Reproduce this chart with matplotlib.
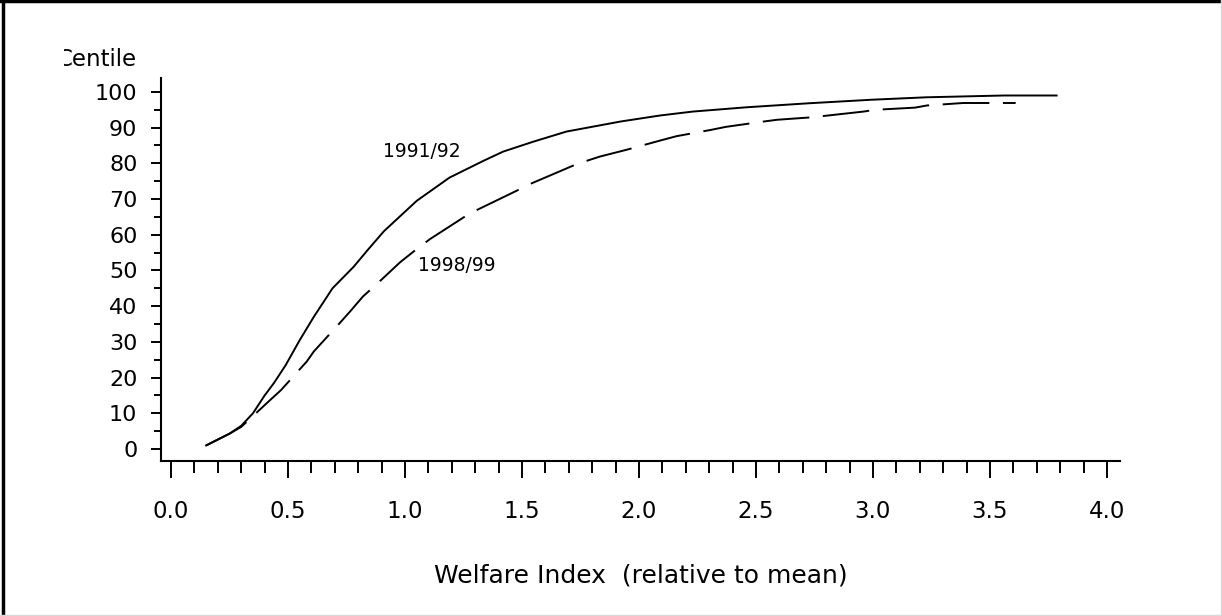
"""Cumulative welfare distribution, 1991/92 vs 1998/99."""
import numpy as np
import matplotlib
matplotlib.use("Agg")
import matplotlib.pyplot as plt
from matplotlib.lines import Line2D
from matplotlib.patches import Rectangle
from matplotlib.ticker import MultipleLocator

# welfare index (relative to mean) vs centile
x_9192 = [0.15, 0.25, 0.30, 0.35, 0.40, 0.44, 0.49, 0.55, 0.61, 0.69, 0.78,
          0.84, 0.91, 1.05, 1.19, 1.335, 1.42, 1.55, 1.69, 1.83, 1.92, 2.09,
          2.23, 2.46, 2.72, 2.99, 3.23, 3.56, 3.785]
y_9192 = [1.0, 4.3, 6.5, 10.0, 15.0, 18.5, 23.5, 30.5, 37.0, 45.0, 51.0,
          55.7, 61.0, 69.5, 76.0, 80.7, 83.3, 86.1, 88.9, 90.6, 91.7, 93.4,
          94.5, 95.7, 96.8, 97.8, 98.5, 99.0, 99.0]

x_9899 = [0.15, 0.25, 0.30, 0.42, 0.47, 0.58, 0.61, 0.72, 0.765, 0.82, 0.886,
          0.922, 0.979, 1.05, 1.107, 1.256, 1.306, 1.47, 1.534, 1.677, 1.734,
          1.833, 1.947, 2.097, 2.16, 2.31, 2.37, 2.52, 2.59, 2.74, 2.795,
          2.96, 3.01, 3.18, 3.23, 3.386, 3.61]
y_9899 = [1.0, 4.3, 6.2, 13.5, 16.5, 24.5, 27.3, 35.2, 38.5, 42.7, 46.6,
          48.8, 52.3, 56.0, 58.8, 65.1, 66.9, 72.1, 74.2, 78.2, 79.8,
          81.9, 83.8, 86.5, 87.6, 89.4, 90.2, 91.6, 92.2, 92.9, 93.3,
          94.5, 95.0, 95.6, 96.2, 96.9, 96.9]

W, H = 1222, 616
fig = plt.figure(figsize=(W / 100, H / 100), dpi=100)
ax = fig.add_axes([161 / W, 1 - 461 / H, (1120 - 161) / W, (461 - 78) / H])

lw = 1.4
ax.plot(x_9192, y_9192, color="black", lw=lw, solid_joinstyle="round")
ax.plot(x_9899, y_9899, color="black", lw=lw, ls=(0, (24, 7)))

ax.text(1.07, 83.2, "1991/92", fontsize=13.5, ha="center", va="center")
ax.text(1.22, 51.3, "1998/99", fontsize=13.5, ha="center", va="center")

ax.set_xlim(-0.043, 4.056)
ax.set_ylim(-3.36, 103.9)
for side in ("top", "right"):
    ax.spines[side].set_visible(False)
for side in ("left", "bottom"):
    ax.spines[side].set_linewidth(1.5)

ax.xaxis.set_major_locator(MultipleLocator(0.5))
ax.xaxis.set_minor_locator(MultipleLocator(0.1))
ax.yaxis.set_major_locator(MultipleLocator(10))
ax.yaxis.set_minor_locator(MultipleLocator(5))
ax.xaxis.set_major_formatter(lambda v, pos: f"{v:.1f}")
ax.tick_params(axis="x", which="major", length=12, width=1.4, pad=16, labelsize=16.5)
ax.tick_params(axis="x", which="minor", length=8.5, width=1.4)
ax.tick_params(axis="y", which="major", length=7, width=1.4, pad=10, labelsize=16)
ax.tick_params(axis="y", which="minor", length=5, width=1.4)

ax.set_xlabel("Welfare Index  (relative to mean)", fontsize=18, labelpad=29)

# y-axis title sits above the axis, its left edge cut by the frame margin
t = fig.text(137 / W, 1 - 60 / H, "Centile", fontsize=16.5, ha="right", va="center")
t.set_clip_path(Rectangle((64 / W, 0), 1, 1, transform=fig.transFigure))

# outer frame
fig.add_artist(Line2D([0, 1], [1 - 1 / H, 1 - 1 / H], color="black", lw=2.5))
fig.add_artist(Line2D([3 / W, 3 / W], [0, 1], color="black", lw=2.5))
fig.add_artist(Line2D([1 - 1 / W, 1 - 1 / W], [0, 1], color="#d8d8d8", lw=1))
fig.add_artist(Line2D([0, 1], [1 / H, 1 / H], color="#d8d8d8", lw=1))

fig.savefig("out.png", dpi=100)
